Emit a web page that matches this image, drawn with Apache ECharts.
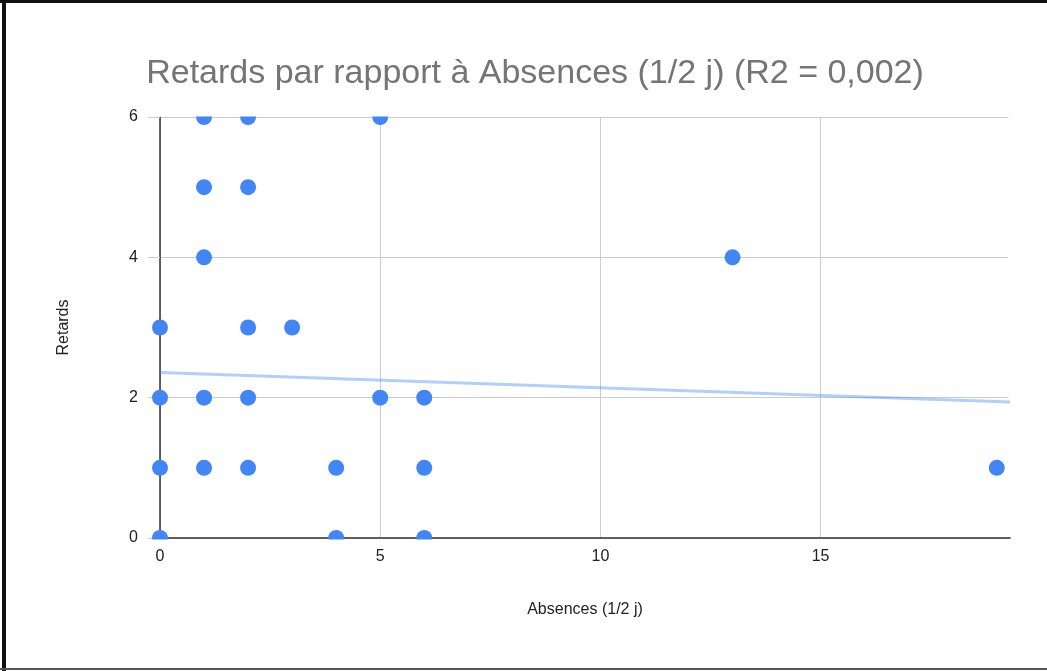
<!DOCTYPE html>
<html>
<head>
<meta charset="utf-8">
<script src="https://cdn.jsdelivr.net/npm/echarts@6/dist/echarts.min.js"></script>
<style>
html,body{margin:0;padding:0;background:#fff;}
#wrap{position:relative;width:1047px;height:671px;overflow:hidden;}
#chart{position:absolute;left:0;top:0;width:1047px;height:671px;}
.b{position:absolute;pointer-events:none;}
</style>
</head>
<body>
<div id="wrap">
<div id="chart"></div>
<div class="b" style="left:0;top:0;width:1047px;height:3px;background:#111;"></div>
<div class="b" style="left:2px;top:0;width:4px;height:671px;background:#111;"></div>
<div class="b" style="left:0;top:668px;width:1047px;height:2px;background:#555;"></div>
</div>
<script>
const titleText = 'Retards par rapport à Absences (1/2 j) (R2 = 0,002)';
const xName = 'Absences (1/2 j)';
const yName = 'Retards';
const absences = [0, 0, 0, 0, 1, 1, 1, 1, 1, 2, 2, 2, 2, 2, 3, 4, 4, 5, 5, 6, 6, 6, 13, 19];
const retards  = [0, 1, 2, 3, 1, 2, 4, 5, 6, 1, 2, 3, 5, 6, 3, 0, 1, 2, 6, 0, 1, 2, 4, 1];
const trendX = [0, 19.3];
const trendY = [2.36, 1.94];
const xMax = 19.3;

const points = absences.map((a, i) => [a, retards[i]]);
const trend = trendX.map((x, i) => [x, trendY[i]]);

const chart = echarts.init(document.getElementById('chart'));
chart.setOption({
  animation: false,
  backgroundColor: '#fff',
  title: {
    text: titleText,
    left: 530, textAlign: 'center', top: 52,
    textStyle: {fontFamily: 'Liberation Sans, Arial', fontSize: 34, fontWeight: 'normal', color: '#757575'}
  },
  grid: {left: 160, right: 37, top: 117, bottom: 133},
  xAxis: {
    type: 'value', min: 0, max: xMax, interval: 5,
    name: xName, nameLocation: 'middle', nameGap: 64,
    nameTextStyle: {fontFamily: 'Liberation Sans, Arial', fontSize: 16, color: '#222'},
    axisLine: {show: true, onZero: false, lineStyle: {color: '#333', width: 1.5}},
    axisTick: {show: false},
    axisLabel: {fontFamily: 'Liberation Sans, Arial', fontSize: 16, color: '#222', margin: 11, showMaxLabel: false},
    splitLine: {show: true, lineStyle: {color: '#ccc', width: 1}}
  },
  yAxis: {
    type: 'value', min: 0, max: 6, interval: 2,
    name: yName, nameLocation: 'middle', nameGap: 88,
    nameTextStyle: {fontFamily: 'Liberation Sans, Arial', fontSize: 16, color: '#222'},
    axisLine: {show: true, onZero: false, lineStyle: {color: '#333', width: 1.5}},
    axisTick: {show: true, length: 12, lineStyle: {color: '#ccc'}},
    axisLabel: {fontFamily: 'Liberation Sans, Arial', fontSize: 16, color: '#222', margin: 22},
    splitLine: {show: true, lineStyle: {color: '#ccc', width: 1}}
  },
  graphic: [
    {type: 'rect', z: 50, shape: {x: 145, y: 95, width: 880, height: 21.5}, style: {fill: '#fff'}},
    {type: 'rect', z: 50, shape: {x: 145, y: 539.5, width: 880, height: 7.5}, style: {fill: '#fff'}},
    {type: 'rect', z: 1, shape: {x: 1008.5, y: 110, width: 4, height: 427}, style: {fill: '#fff'}}
  ],
  series: [
    {
      type: 'line', data: trend, symbol: 'none', z: 3, clip: false,
      lineStyle: {color: '#4285F4', opacity: 0.4, width: 3}
    },
    {
      type: 'scatter', data: points, symbolSize: 16, z: 4, clip: false,
      itemStyle: {color: '#4285F4', opacity: 1}
    }
  ]
});
</script>
</body>
</html>
